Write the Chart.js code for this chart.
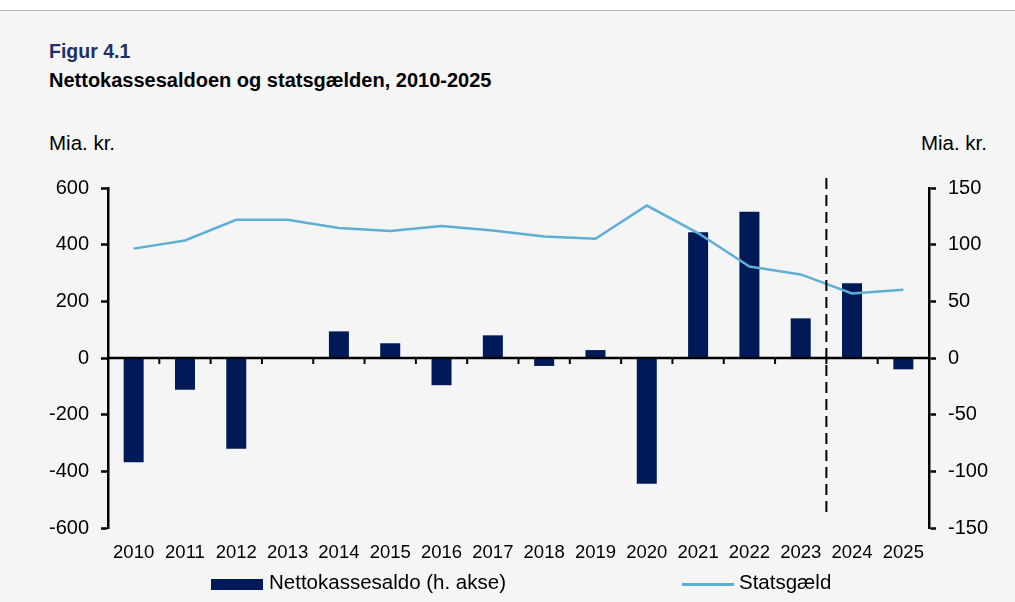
<!DOCTYPE html>
<html>
<head>
<meta charset="utf-8">
<script src="https://cdn.jsdelivr.net/npm/chart.js@4"></script>
<style>
  html, body { margin: 0; padding: 0; }
  body {
    width: 1015px; height: 602px; position: relative; overflow: hidden;
    background: #f5f5f5; font-family: "Liberation Sans", Arial, sans-serif; color: #000;
  }
  #top { position: absolute; left: 0; top: 0; width: 1015px; height: 10px; background: #fff; border-bottom: 1px solid #b4b4b4; }
  .txt { position: absolute; white-space: nowrap; }
  .bold { font-weight: bold; }
  #wrap { position: absolute; left: 0; top: 0; width: 1015px; height: 602px; }
  .sw { position: absolute; }
</style>
</head>
<body>
<div id="top"></div>
<div class="txt bold" style="left:49px; top:42px; font-size:19.5px; line-height:19.5px; color:#1c2f6b;">Figur 4.1</div>
<div class="txt bold" style="left:49px; top:70px; font-size:20px; line-height:20px;">Nettokassesaldoen og statsgælden, 2010-2025</div>
<div class="txt" style="left:49px; top:133px; font-size:20.5px; line-height:20.5px;">Mia. kr.</div>
<div class="txt" style="right:28px; top:133px; font-size:20.5px; line-height:20.5px;">Mia. kr.</div>
<div id="wrap"><canvas id="chart"></canvas></div>
<div class="sw" style="left:211px; top:579px; width:52px; height:11px; background:#001a57;"></div>
<div class="txt" style="left:269px; top:572px; font-size:20.5px; line-height:20.5px;">Nettokassesaldo (h. akse)</div>
<div class="sw" style="left:682px; top:583px; width:52px; height:3px; background:#5eafd7;"></div>
<div class="txt" style="left:739px; top:572px; font-size:20.5px; line-height:20.5px;">Statsgæld</div>
<script>
const years = ['2010', '2011', '2012', '2013', '2014', '2015', '2016', '2017',
  '2018', '2019', '2020', '2021', '2022', '2023', '2024', '2025'];
// nettokassesaldo, højre akse
const nettokassesaldo = [-92, -28, -80, 0, 23.5, 13, -24, 20, -7, 7, -111, 111, 129, 35, 66, -10];
// statsgæld, venstre akse
const statsgaeld = [386, 415, 488, 488, 459, 448, 466, 450, 429, 421, 538, 441, 323, 295, 228, 241];
const venstreTicks = [-600, -400, -200, 0, 200, 400, 600];
const hoejreTicks = [-150, -100, -50, 0, 50, 100, 150];
const prognoseStart = 13.5; // skillelinje mellem 2023 og 2024

const navy = '#001a57';
const lysblaa = '#5eafd7';

const axisPlugin = {
  id: 'axisPlugin',
  afterDatasetsDraw(c) {
    const ctx = c.ctx;
    const x = c.scales.x;
    const y1 = c.scales.y1;
    const area = c.chartArea;
    const y0 = y1.getPixelForValue(0);
    ctx.save();
    ctx.strokeStyle = '#000';
    ctx.lineWidth = 2.5;
    ctx.beginPath();
    ctx.moveTo(area.left, y0);
    ctx.lineTo(area.right, y0);
    ctx.stroke();
    ctx.lineWidth = 2;
    for (let i = 1; i < years.length; i++) {
      const px = (x.getPixelForValue(i - 1) + x.getPixelForValue(i)) / 2;
      ctx.beginPath();
      ctx.moveTo(px, y0);
      ctx.lineTo(px, y0 + 6);
      ctx.stroke();
    }
    // prognose-skillelinje
    const dx = (x.getPixelForValue(Math.floor(prognoseStart)) + x.getPixelForValue(Math.ceil(prognoseStart))) / 2;
    ctx.setLineDash([11, 6]);
    ctx.lineWidth = 2;
    ctx.beginPath();
    ctx.moveTo(dx, area.top - 10);
    ctx.lineTo(dx, y1.getPixelForValue(-138));
    ctx.stroke();
    ctx.restore();
  }
};

const ctx = document.getElementById('chart').getContext('2d');
const chart = new Chart(ctx, {
  type: 'bar',
  data: {
    labels: years,
    datasets: [
      {
        type: 'line',
        label: 'Statsgæld',
        data: statsgaeld,
        yAxisID: 'y',
        borderColor: lysblaa,
        borderWidth: 2.5,
        pointRadius: 0,
        tension: 0,
        fill: false,
        order: 0
      },
      {
        type: 'bar',
        label: 'Nettokassesaldo (h. akse)',
        data: nettokassesaldo,
        yAxisID: 'y1',
        backgroundColor: navy,
        categoryPercentage: 1,
        barPercentage: 0.39,
        order: 1
      }
    ]
  },
  options: {
    responsive: true,
    maintainAspectRatio: false,
    animation: false,
    layout: { padding: { top: 188, left: 0, right: 0, bottom: 0 } },
    plugins: {
      legend: { display: false },
      tooltip: { enabled: false }
    },
    scales: {
      x: {
        grid: { display: false },
        border: { display: false },
        ticks: {
          color: '#000',
          font: { family: 'Liberation Sans, Arial', size: 18.5 },
          padding: 6,
          maxRotation: 0,
          autoSkip: false
        },
        afterFit(s) { s.height = 74; }
      },
      y: {
        position: 'left',
        min: -600,
        max: 600,
        afterBuildTicks(s) { s.ticks = venstreTicks.map(v => ({ value: v })); },
        grid: { drawOnChartArea: false, tickLength: 7, tickWidth: 2.5, tickColor: '#000' },
        border: { display: true, color: '#000', width: 2.5 },
        ticks: {
          color: '#000',
          font: { family: 'Liberation Sans, Arial', size: 20 },
          padding: 12
        },
        afterFit(s) { s.width = 108; }
      },
      y1: {
        position: 'right',
        min: -150,
        max: 150,
        afterBuildTicks(s) { s.ticks = hoejreTicks.map(v => ({ value: v })); },
        grid: { drawOnChartArea: false, tickLength: 7, tickWidth: 2.5, tickColor: '#000' },
        border: { display: true, color: '#000', width: 2.5 },
        ticks: {
          color: '#000',
          font: { family: 'Liberation Sans, Arial', size: 20 },
          padding: 12
        },
        afterFit(s) { s.width = 86; }
      }
    }
  },
  plugins: [axisPlugin]
});
</script>
</body>
</html>
